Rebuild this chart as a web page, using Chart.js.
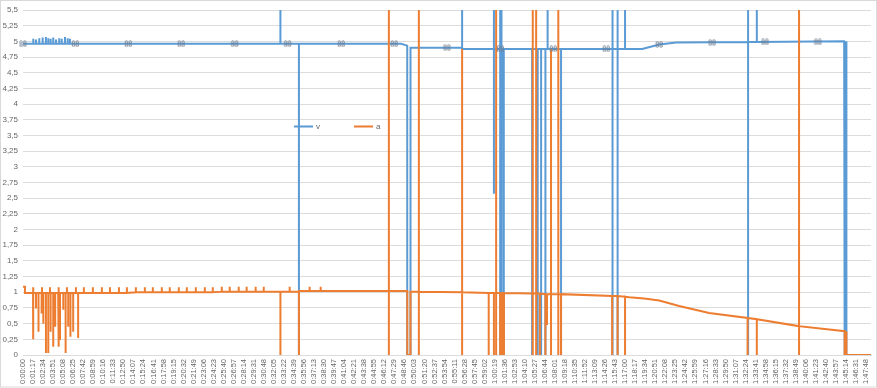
<!DOCTYPE html>
<html>
<head>
<meta charset="utf-8">
<title>v / a</title>
<script src="https://cdn.jsdelivr.net/npm/chart.js@4.4.1/dist/chart.umd.min.js"></script>
<style>
  html, body { margin: 0; padding: 0; background: #fff; }
  #wrap { width: 877px; height: 388px; }
</style>
</head>
<body>
<div id="wrap"><canvas id="chart" width="877" height="388"></canvas></div>
<script>
'use strict';

// Series names
let seriesNames = ['v', 'a'];

// Time axis, in seconds from the start (label every 77 s)
let timeMax = 6506;
let timeStep = 77;

// Y axis
let yMin = 0;
let yMax = 5.5;
let yStep = 0.25;

// v trace: [seconds, value, value...] - several values at one time make a vertical jump
let voltTrace = [
  [0, 4.96],
  [79, 4.96, 5.04, 4.96],
  [100, 4.96, 5.03, 4.96],
  [125, 4.96, 5.05, 4.96],
  [151, 4.96, 5.06, 4.96],
  [176, 4.96, 5.07, 4.96],
  [194, 4.96, 5.05, 4.96],
  [212, 4.96, 5.04, 4.96],
  [232, 4.96, 5.06, 4.96],
  [253, 4.96, 5.03, 4.96],
  [278, 4.96, 5.05, 4.96],
  [297, 4.96, 5.04, 4.96],
  [322, 4.96, 5.07, 4.96],
  [343, 4.96, 5.05, 4.96],
  [360, 4.96, 5.04, 4.96],
  [1975, 4.96, 6, 4.96],
  [2117, 4.96, 0, 4.96],
  [2900, 4.96],
  [2935, 4.94],
  [2948, 4.93, 0],
  [2973, 0, 4.9],
  [3369, 4.9, 6, 4.88],
  [3613, 4.88, 6, 2.57, 4.88],
  [3661, 4.88, 6, 0],
  [3671, 0, 6, 2.57, 4.88],
  [3686, 4.88, 0],
  [3690, 0, 4.88],
  [3906, 4.88, 0, 4.88],
  [3949, 4.88, 0, 4.88],
  [3975, 4.88, 0, 4.88],
  [4008, 4.88, 0, 4.88],
  [4025, 4.88, 6, 4.88],
  [4128, 4.88, 0, 4.88],
  [4523, 4.88, 6, 0, 4.88],
  [4562, 4.88, 6, 0, 4.88],
  [4619, 4.88, 6, 4.88],
  [4751, 4.88],
  [4881, 4.95],
  [5012, 4.98],
  [5563, 4.99, 6, 0, 4.99],
  [5630, 4.99, 6, 4.99],
  [6300, 5.0],
  [6304, 5.0, 0],
  [6316, 0, 5.0],
  [6318, 5.0, 0],
  [6506, 0]
];

// a trace, same layout
let ampTrace = [
  [0, 1.09], [15, 1.09, 0.99],
  [77, 0.99, 1.08, 0.99],
  [79, 0.99, 0.25, 0.99],
  [100, 0.99, 0.74, 0.99],
  [119, 0.99, 0.37, 0.99],
  [143, 0.99, 0.66, 0.99],
  [146, 0.99, 1.08, 0.99],
  [156, 0.99, 0.5, 0.99],
  [176, 0.99, 0.03, 0.99],
  [194, 0.99, 0.03, 0.99],
  [207, 0.99, 1.08, 0.99],
  [212, 0.99, 0.37, 0.99],
  [232, 0.99, 0.13, 0.99],
  [247, 0.99, 0.45, 0.99],
  [270, 0.99, 0.13, 0.99],
  [276, 0.99, 1.08, 0.99],
  [284, 0.99, 0.24, 0.99],
  [309, 0.99, 0.72, 0.99],
  [327, 0.99, 0.03, 0.99],
  [337, 0.99, 1.08, 0.99],
  [347, 0.99, 0.45, 0.99],
  [364, 0.99, 0.29, 0.99],
  [385, 0.99, 0.37, 0.99],
  [406, 0.99, 1.08, 0.99],
  [423, 0.99, 0.27, 0.99],
  [467, 0.99, 1.08, 0.99],
  [536, 0.99, 1.08, 0.99],
  [605, 0.99, 1.08, 0.99],
  [667, 0.99, 1.08, 0.99],
  [736, 0.99, 1.08, 0.99],
  [797, 0.99, 1.08, 0.99],
  [866, 1.0, 1.08, 1.0],
  [935, 1.0, 1.08, 1.0],
  [996, 1.0, 1.08, 1.0],
  [1065, 1.0, 1.08, 1.0],
  [1126, 1.0, 1.08, 1.0],
  [1195, 1.0, 1.08, 1.0],
  [1257, 1.0, 1.08, 1.0],
  [1326, 1.0, 1.08, 1.0],
  [1395, 1.0, 1.08, 1.0],
  [1456, 1.0, 1.08, 1.0],
  [1525, 1.01, 1.09, 1.01],
  [1586, 1.01, 1.09, 1.01],
  [1655, 1.01, 1.09, 1.01],
  [1716, 1.01, 1.09, 1.01],
  [1785, 1.01, 1.09, 1.01],
  [1847, 1.01, 1.09, 1.01],
  [1975, 1.01, 0, 1.01],
  [2046, 1.01, 1.09, 1.01],
  [2117, 1.01, 0, 1.02],
  [2199, 1.02, 1.09, 1.02],
  [2284, 1.02, 1.09, 1.02],
  [2807, 1.02, 6, 0, 1.02],
  [2948, 1.02, 0],
  [2973, 0, 1.01],
  [3037, 1.01, 6, 0, 1.01],
  [3369, 1.0, 4.88, 0, 1.0],
  [3573, 0.99, 0, 0.99],
  [3613, 0.99, 0, 0.99],
  [3630, 0.99, 6, 0, 0.99],
  [3661, 0.99, 0],
  [3671, 0, 0.99],
  [3681, 0.99, 0],
  [3690, 0, 0.99],
  [3911, 0.98, 6, 0, 0.98],
  [3937, 0.98, 6, 0, 0.98],
  [3966, 0.98, 0, 0.98],
  [4008, 0.97, 0, 0.97],
  [4020, 0.97, 0.48, 0.97],
  [4051, 0.97, 4.88, 0, 0.97],
  [4107, 0.97, 6, 0, 0.97],
  [4128, 0.97, 0, 0.97],
  [4520, 0.94, 0, 0.94],
  [4562, 0.94, 0, 0.94],
  [4619, 0.93, 0, 0.93],
  [4651, 0.92],
  [4766, 0.9],
  [4881, 0.87],
  [5034, 0.78],
  [5264, 0.67],
  [5559, 0.59, 0, 0.59],
  [5630, 0.57, 0, 0.57],
  [5954, 0.46, 6, 0, 0.46],
  [6304, 0.38, 0],
  [6316, 0, 0.38],
  [6318, 0.38, 0],
  [6506, 0]
];

// the little grey marks sitting on the v line
let markTimes = [0, 402, 808, 1214, 1625, 2031, 2442, 2848, 3253, 3663, 4069, 4475, 4881, 5287, 5693, 6099];
let markValues = [4.96, 4.96, 4.96, 4.96, 4.96, 4.96, 4.96, 4.96, 4.9, 4.88, 4.88, 4.88, 4.95, 4.98, 4.99, 4.99];

// Colours
let blue = '#5b9bd5';
let orange = '#ed7d31';
let textGrey = '#666666';
let gridGrey = '#dcdcdc';

//Turn a trace into {x, y} points for Chart.js
function tracePoints(trace) {
  let pts = [];
  for (let i = 0; i < trace.length; i++) {
    for (let j = 1; j < trace[i].length; j++) {
      pts.push({ x: trace[i][0], y: trace[i][j] });
    }
  }
  return pts;
}

function pad2(n) {
  return n < 10 ? '0' + n : '' + n;
}

// seconds -> h:mm:ss
function timeLabel(sec) {
  let h = Math.floor(sec / 3600);
  let m = Math.floor((sec % 3600) / 60);
  let s = sec % 60;
  return h + ':' + pad2(m) + ':' + pad2(s);
}

// small "88" shaped mark drawn once and used as point style
function makeMark() {
  let c = document.createElement('canvas');
  c.width = 9;
  c.height = 7;
  let g = c.getContext('2d');
  g.strokeStyle = '#6f7f93';
  g.lineWidth = 0.9;
  let dots = [[2.5, 2], [2.5, 5], [6.3, 2], [6.3, 5]];
  dots.forEach(function (d) {
    g.beginPath();
    g.arc(d[0], d[1], 1.3, 0, Math.PI * 2);
    g.stroke();
  });
  return c;
}

let markPoints = [];
for (let i = 0; i < markTimes.length; i++) {
  markPoints.push({ x: markTimes[i], y: markValues[i] });
}

// legend drawn inside the plot like the original
let insideLegend = {
  id: 'insideLegend',
  afterDraw(chart) {
    let ctx = chart.ctx;
    ctx.save();
    ctx.lineWidth = 2;
    ctx.font = '8px "Liberation Sans"';
    ctx.fillStyle = textGrey;
    ctx.textBaseline = 'middle';
    let items = [
      { color: blue, x: 294, text: seriesNames[0] },
      { color: orange, x: 354, text: seriesNames[1] }
    ];
    items.forEach(function (it) {
      ctx.strokeStyle = it.color;
      ctx.beginPath();
      ctx.moveTo(it.x, 126.5);
      ctx.lineTo(it.x + 19, 126.5);
      ctx.stroke();
      ctx.fillText(it.text, it.x + 22, 126.5);
    });
    ctx.restore();
  }
};

// white background and thin frame
let frame = {
  id: 'frame',
  beforeDraw(chart) {
    let ctx = chart.ctx;
    ctx.save();
    ctx.fillStyle = '#ffffff';
    ctx.fillRect(0, 0, chart.width, chart.height);
    ctx.restore();
  },
  afterDraw(chart) {
    let ctx = chart.ctx;
    ctx.save();
    ctx.strokeStyle = '#d9d9d9';
    ctx.lineWidth = 1;
    ctx.strokeRect(0.5, 0.5, chart.width - 1, chart.height - 1.5);
    ctx.restore();
  }
};

Chart.defaults.font.family = '"Liberation Sans", Arial, sans-serif';
Chart.defaults.color = textGrey;

const ctx = document.getElementById('chart').getContext('2d');

const chart = new Chart(ctx, {
  type: 'line',
  data: {
    datasets: [
      {
        label: seriesNames[0],
        data: tracePoints(voltTrace),
        borderColor: blue,
        backgroundColor: blue,
        borderWidth: 2,
        pointRadius: 0,
        tension: 0,
        order: 2
      },
      {
        label: seriesNames[1],
        data: tracePoints(ampTrace),
        borderColor: orange,
        backgroundColor: orange,
        borderWidth: 2,
        pointRadius: 0,
        tension: 0,
        order: 1
      },
      {
        label: 'marks',
        data: markPoints,
        showLine: false,
        pointStyle: makeMark(),
        pointRadius: 5,
        clip: false,
        order: 0
      }
    ]
  },
  options: {
    responsive: false,
    animation: false,
    events: [],
    layout: {
      padding: { left: 0, top: 10, right: 5, bottom: 0 }
    },
    plugins: {
      legend: { display: false },
      tooltip: { enabled: false }
    },
    scales: {
      x: {
        type: 'linear',
        min: 0,
        max: timeMax,
        grid: { display: false, drawTicks: false },
        border: { display: true, color: gridGrey },
        afterFit: function (scale) {
          scale.height = 33;
          scale.paddingLeft = 0;
          scale.paddingRight = 0;
        },
        ticks: {
          stepSize: timeStep,
          autoSkip: false,
          includeBounds: false,
          minRotation: 90,
          maxRotation: 90,
          padding: 4,
          font: { size: 7.5 },
          callback: function (value) { return timeLabel(value); }
        }
      },
      y: {
        min: yMin,
        max: yMax,
        grid: { color: gridGrey, drawTicks: false },
        border: { display: false },
        afterFit: function (scale) { scale.width = 23; },
        ticks: {
          stepSize: yStep,
          padding: 5,
          font: { size: 8 },
          callback: function (value) { return ('' + value).replace('.', ','); }
        }
      }
    }
  },
  plugins: [frame, insideLegend]
});
</script>
</body>
</html>
